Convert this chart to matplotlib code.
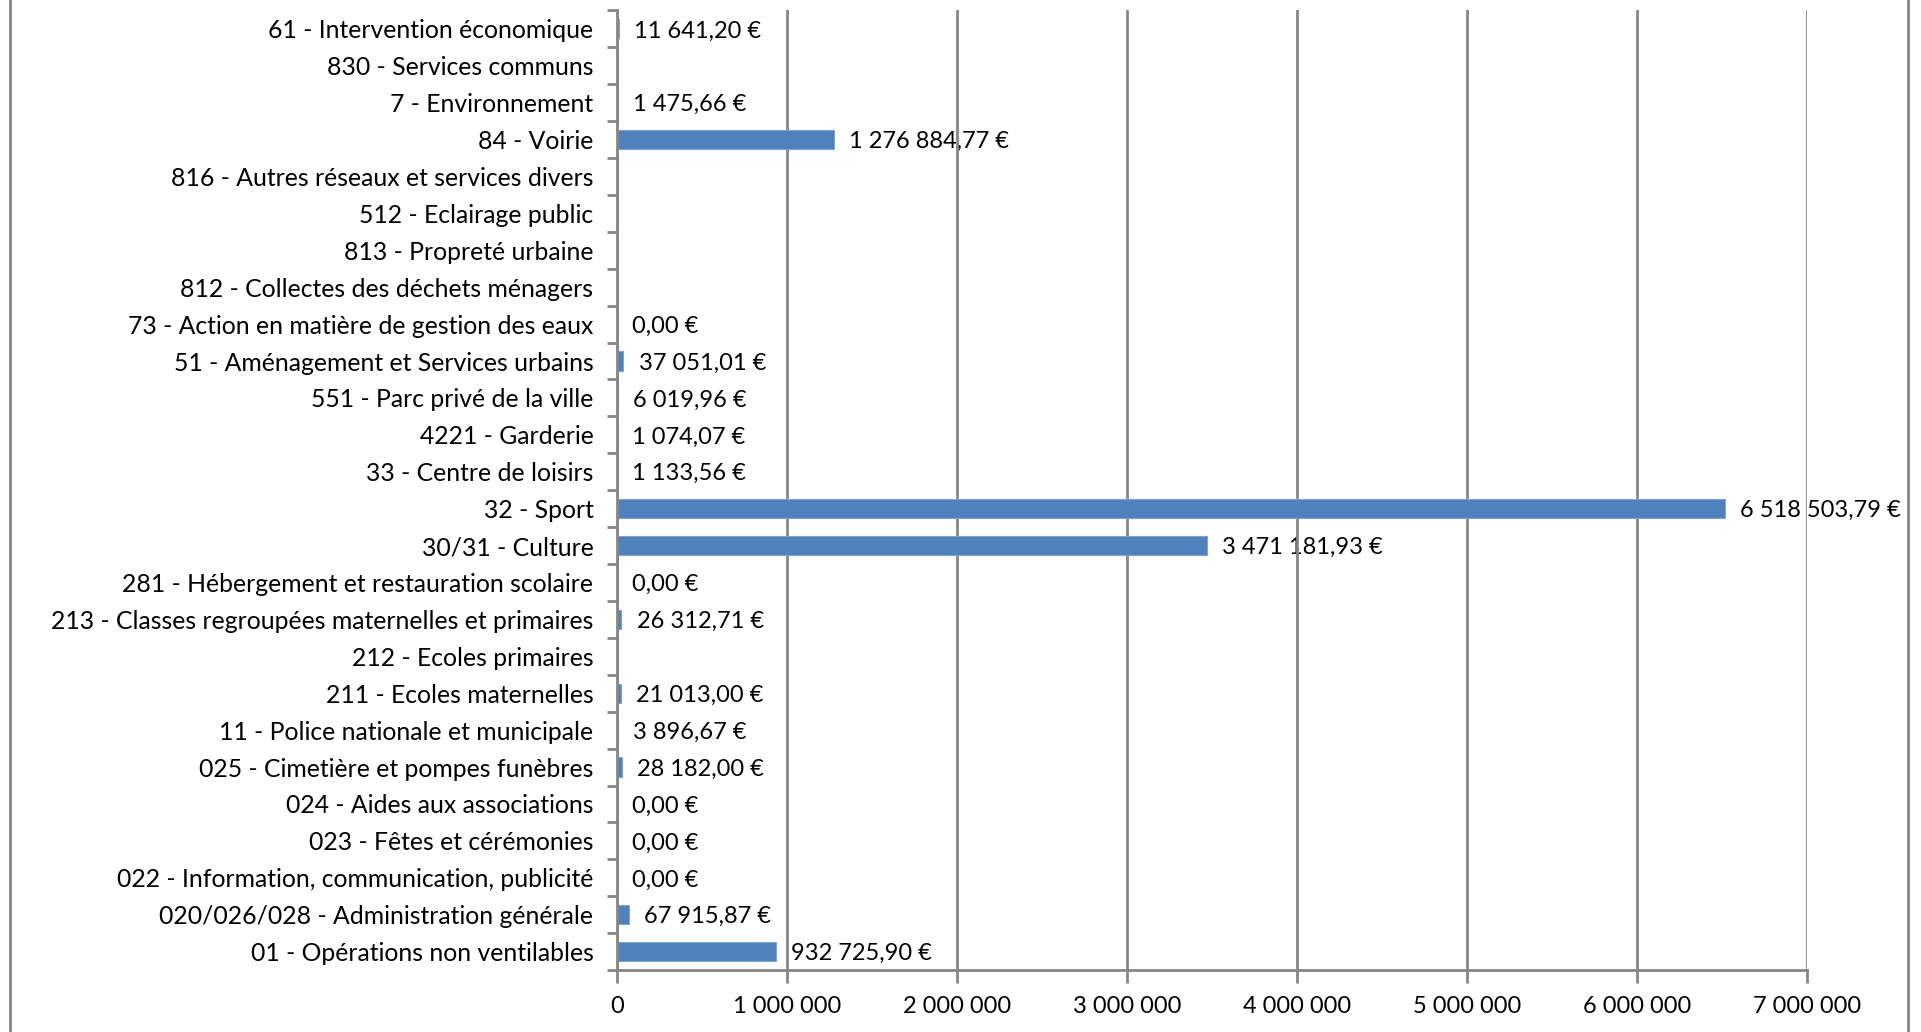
import matplotlib
matplotlib.use('Agg')
import numpy as np
from matplotlib import pyplot as plt
from matplotlib.lines import Line2D

plt.rcParams['font.family'] = ['Lato', 'DejaVu Sans']

categories = ['01 - Opérations non ventilables',
              '020/026/028 - Administration générale',
              '022 - Information, communication, publicité',
              '023 - Fêtes et cérémonies',
              '024 - Aides aux associations',
              '025 - Cimetière et pompes funèbres',
              '11 - Police nationale et municipale',
              '211 - Ecoles maternelles',
              '212 - Ecoles primaires',
              '213 - Classes regroupées maternelles et primaires',
              '281 - Hébergement et restauration scolaire',
              '30/31 - Culture',
              '32 - Sport',
              '33 - Centre de loisirs',
              '4221 - Garderie',
              '551 - Parc privé de la ville',
              '51 - Aménagement et Services urbains',
              '73 - Action en matière de gestion des eaux',
              '812 - Collectes des déchets ménagers',
              '813 - Propreté urbaine',
              '512 - Eclairage public',
              '816 - Autres réseaux et services divers',
              '84 - Voirie',
              '7 - Environnement',
              '830 - Services communs',
              '61 - Intervention économique']
# None = no value in the source (no bar, no label)
values = [932725.90, 67915.87, 0.0, 0.0, 0.0, 28182.00, 3896.67, 21013.00,
          None, 26312.71, 0.0, 3471181.93, 6518503.79, 1133.56, 1074.07,
          6019.96, 37051.01, 0.0, None, None, None, None, 1276884.77,
          1475.66, None, 11641.20]
xticks = [0, 1000000, 2000000, 3000000, 4000000, 5000000, 6000000, 7000000]

grey = '#868686'
blue = '#4F81BD'
fs = 17


def fr(v, dec=2):
    s = f'{v:,.{dec}f}'
    return s.replace(',', ' ').replace('.', ',')


fig = plt.figure(figsize=(19.21, 10.32), dpi=100)
ax = fig.add_axes([617 / 1921, 0.060, 1190 / 1921, 0.930])

y = np.arange(len(categories))
vals = np.array([v if v is not None else 0 for v in values])
ax.barh(y, vals, height=0.52, color=blue, edgecolor='#7FA3D3', linewidth=0.8,
        zorder=2)
for yi, v in zip(y, values):
    if v is None:
        continue
    ax.annotate(fr(v) + ' €', (v, yi), xytext=(11, -1.5),
                textcoords='offset points', va='center', ha='left',
                fontsize=fs, color='black', zorder=0.3)

ax.set_xlim(0, 7000000)
ax.set_ylim(-0.5, len(categories) - 0.5)
ax.set_xticks(xticks)
ax.set_xticklabels([fr(t, 0) for t in xticks], fontsize=fs)
ax.set_yticks(y)
ax.set_yticklabels(categories, fontsize=17.8)
ax.set_yticks(np.arange(-0.5, len(categories), 1), minor=True)
ax.tick_params(axis='y', which='major', length=0, pad=17)
ax.tick_params(axis='y', which='minor', length=7, width=2, color=grey)
ax.tick_params(axis='x', length=9, width=2, color=grey, pad=10)

ax.set_axisbelow(True)
ax.grid(axis='x', color=grey, linewidth=2)
for s in ['top', 'right']:
    ax.spines[s].set_visible(False)
for s in ['left', 'bottom']:
    ax.spines[s].set_color(grey)
    ax.spines[s].set_linewidth(2)

# chart area border
fig.add_artist(Line2D([10 / 1921, 10 / 1921], [0, 1], color=grey, linewidth=2))
fig.add_artist(Line2D([1908 / 1921, 1908 / 1921], [0, 1], color=grey, linewidth=2))

fig.savefig('out.png', dpi=100)
